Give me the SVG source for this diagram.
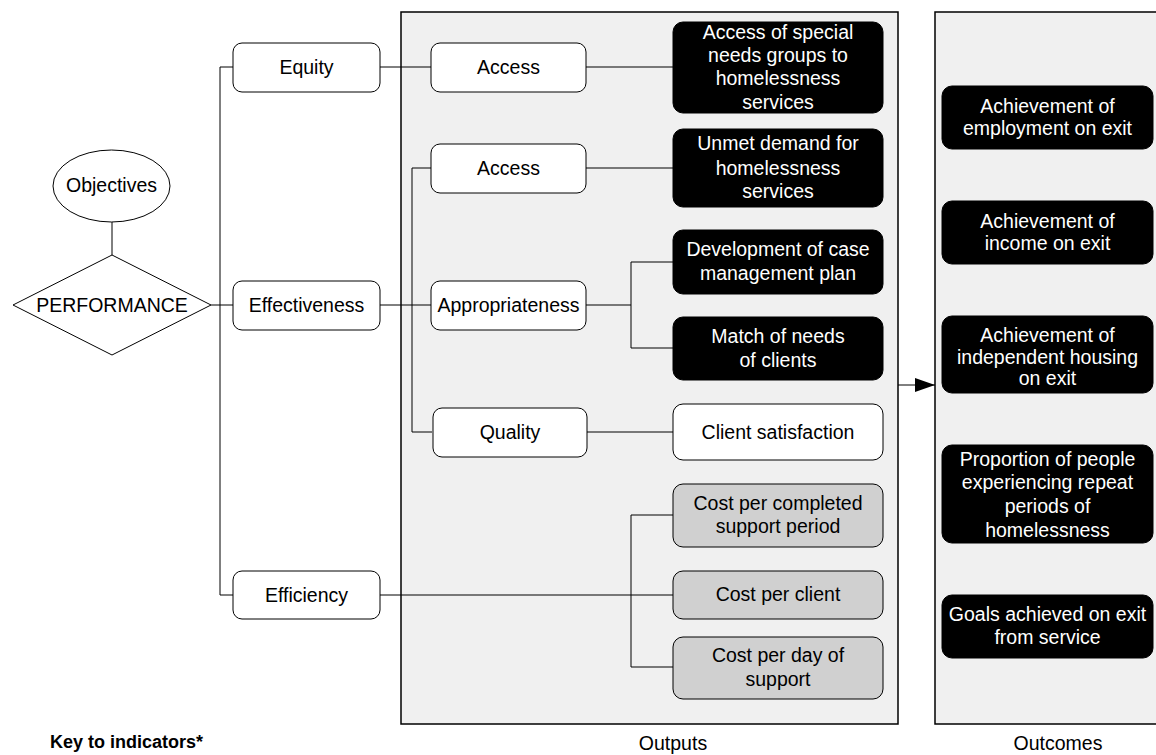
<svg xmlns="http://www.w3.org/2000/svg" width="1156" height="755" viewBox="0 0 1156 755">
<defs>
<style>
text{font-family:"Liberation Sans",Arial,sans-serif;font-size:19.5px;text-anchor:middle;fill:#000;stroke:none}
.w{fill:#fff;stroke:#000;stroke-width:1}
.b rect{fill:#000;stroke:#000;stroke-width:1}
.g{fill:#d0d0d0;stroke:#000;stroke-width:1}
.b text{fill:#fff;stroke:none}
.cont{fill:#f0f0f0;stroke:#000;stroke-width:1.5}
.ln{fill:none;stroke:#000;stroke-width:1}
</style>
<marker id="ah" viewBox="0 0 20 14" refX="20" refY="7" markerWidth="20" markerHeight="14" markerUnits="userSpaceOnUse" orient="auto">
<path d="M0,0 L20,7 L0,14 Z" fill="#000"/>
</marker>
</defs>
<rect width="1156" height="755" fill="#fff"/>
<g id="outputs-panel"><rect class="cont" x="401" y="12" width="497" height="712"/><text x="673" y="750">Outputs</text></g>
<g id="outcomes-panel"><rect class="cont" x="935" y="12" width="240" height="712"/><text x="1058" y="750">Outcomes</text></g>
<g id="connectors">
<path class="ln" d="M112,222 V255"/>
<path class="ln" d="M211,305 H233"/>
<path class="ln" d="M233,67 H220 V595 H233"/>
<path class="ln" d="M380,67 H431"/>
<path class="ln" d="M586,67 H673"/>
<path class="ln" d="M380,305 H431"/>
<path class="ln" d="M431,168 H412 V432 H432"/>
<path class="ln" d="M586,168 H673"/>
<path class="ln" d="M586,305 H631"/>
<path class="ln" d="M673,262 H631 V348 H673"/>
<path class="ln" d="M587,432 H673"/>
<path class="ln" d="M380,595 H673"/>
<path class="ln" d="M673,515 H631 V667 H673"/>
<path class="ln" d="M898,385 H935" marker-end="url(#ah)"/>
</g>
<g id="objectives"><ellipse class="w" cx="111.5" cy="186" rx="58.5" ry="36"/><text x="111.5" y="192">Objectives</text></g>
<g id="performance"><path class="w" d="M112,255 L211,305 L112,355 L13,305 Z"/><text x="112" y="311.5">PERFORMANCE</text></g>
<g id="equity"><rect class="w" x="233" y="43" width="147" height="49" rx="9"/><text x="306.5" y="74">Equity</text></g>
<g id="effectiveness"><rect class="w" x="233" y="281" width="147" height="49" rx="9"/><text x="306.5" y="312">Effectiveness</text></g>
<g id="efficiency"><rect class="w" x="233" y="571" width="147" height="48" rx="9"/><text x="306.5" y="602">Efficiency</text></g>
<g id="access1"><rect class="w" x="431" y="43" width="155" height="49" rx="9"/><text x="508.5" y="74">Access</text></g>
<g id="access2"><rect class="w" x="431" y="144" width="155" height="49" rx="9"/><text x="508.5" y="175">Access</text></g>
<g id="appropriateness"><rect class="w" x="431" y="281" width="155" height="49" rx="9"/><text x="508.5" y="312">Appropriateness</text></g>
<g id="quality"><rect class="w" x="433" y="408" width="154" height="49" rx="9"/><text x="510" y="439">Quality</text></g>
<g id="special-needs" class="b"><rect x="673" y="22" width="210" height="91" rx="10"/><text x="778" y="38.7">Access of special</text><text x="778" y="62">needs groups to</text><text x="778" y="85.3">homelessness</text><text x="778" y="108.7">services</text></g>
<g id="unmet-demand" class="b"><rect x="673" y="129" width="210" height="78" rx="10"/><text x="778" y="150.3">Unmet demand for</text><text x="778" y="174.7">homelessness</text><text x="778" y="198">services</text></g>
<g id="case-plan" class="b"><rect x="673" y="230" width="210" height="64" rx="10"/><text x="778" y="256.3">Development of case</text><text x="778" y="280.3">management plan</text></g>
<g id="match-needs" class="b"><rect x="673" y="317" width="210" height="63" rx="10"/><text x="778" y="343">Match of needs</text><text x="778" y="367">of clients</text></g>
<g id="client-satisfaction"><rect class="w" x="673" y="404" width="210" height="56" rx="10"/><text x="778" y="438.7">Client satisfaction</text></g>
<g id="cost-completed"><rect class="g" x="673" y="484" width="210" height="63" rx="10"/><text x="778" y="509.7">Cost per completed</text><text x="778" y="533">support period</text></g>
<g id="cost-client"><rect class="g" x="673" y="571" width="210" height="48" rx="10"/><text x="778" y="601.3">Cost per client</text></g>
<g id="cost-day"><rect class="g" x="673" y="637" width="210" height="62" rx="10"/><text x="778" y="662.3">Cost per day of</text><text x="778" y="686.3">support</text></g>
<g id="employment" class="b"><rect x="942" y="86" width="211" height="63" rx="10"/><text x="1047.5" y="113">Achievement of</text><text x="1047.5" y="135.3">employment on exit</text></g>
<g id="income" class="b"><rect x="942" y="201" width="211" height="63" rx="10"/><text x="1047.5" y="227.7">Achievement of</text><text x="1047.5" y="250.3">income on exit</text></g>
<g id="housing" class="b"><rect x="942" y="316" width="211" height="77" rx="10"/><text x="1047.5" y="342">Achievement of</text><text x="1047.5" y="363.5">independent housing</text><text x="1047.5" y="385">on exit</text></g>
<g id="repeat" class="b"><rect x="942" y="445" width="211" height="98" rx="10"/><text x="1047.5" y="466.3">Proportion of people</text><text x="1047.5" y="489">experiencing repeat</text><text x="1047.5" y="513">periods of</text><text x="1047.5" y="537">homelessness</text></g>
<g id="goals" class="b"><rect x="942" y="595" width="211" height="63" rx="10"/><text x="1047.5" y="621.3">Goals achieved on exit</text><text x="1047.5" y="644.3">from service</text></g>
<g id="key"><text x="50" y="748" style="text-anchor:start;font-weight:bold;font-size:18px">Key to indicators*</text></g>
</svg>
